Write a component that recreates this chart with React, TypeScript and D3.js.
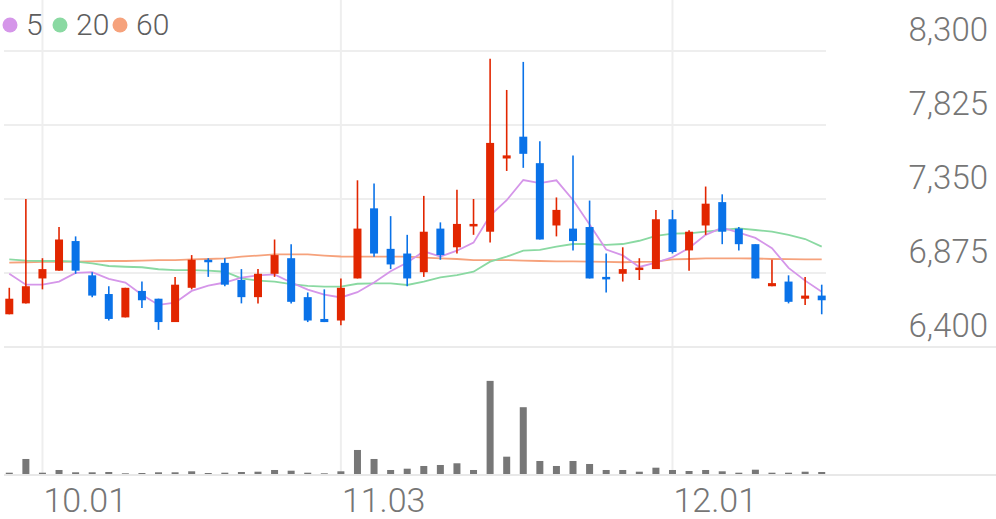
import React from "react";
import * as d3 from "d3";

const dates = [
  "09.29","09.30","10.01","10.02","10.10","10.13","10.14","10.15","10.16","10.17",
  "10.20","10.21","10.22","10.23","10.24","10.27","10.28","10.29","10.30","10.31",
  "11.03","11.04","11.05","11.06","11.07","11.10","11.11","11.12","11.13","11.14",
  "11.17","11.18","11.19","11.20","11.21","11.24","11.25","11.26","11.27","11.28",
  "12.01","12.02","12.03","12.04","12.05","12.08","12.09","12.10","12.11","12.12",
];

const opens = [
  6610,6680,6840,6890,7080,6860,6740,6590,6760,6710,
  6560,6780,6960,6940,6830,6720,6870,6970,6720,6580,
  6570,6840,7290,7030,7000,6880,7160,7040,7180,7140,
  7610,7750,7580,7180,7160,7170,6850,6870,6900,6900,
  7220,7020,7180,7330,7160,7060,6790,6820,6710,6730,
];
const highs = [
  6780,7350,6970,7170,7110,6880,6790,6780,6820,6710,
  6850,6990,6970,6970,6900,6900,7090,7060,6750,6770,
  6840,7470,7450,7240,7120,7370,7200,7410,7350,8250,
  8050,8230,7720,7360,7630,7340,7000,7040,6970,7280,
  7280,7150,7430,7380,7170,7060,6960,6860,6850,6800,
];
const lows = [
  6610,6680,6770,6890,6870,6720,6570,6590,6650,6510,
  6560,6770,6850,6790,6680,6680,6850,6680,6560,6560,
  6540,6840,6980,6900,6790,6850,6960,7000,7120,7070,
  7530,7550,7090,7110,7020,6840,6750,6820,6830,6900,
  7000,6890,7120,7060,7020,6840,6790,6680,6670,6610,
];
const closes = [
  6710,6790,6900,7090,6890,6730,6580,6780,6700,6560,
  6800,6960,6950,6800,6720,6870,6990,6690,6570,6560,
  6780,7160,7000,6930,6840,7140,6990,7190,7190,7710,
  7630,7640,7090,7280,7080,6840,6840,6900,6910,7220,
  7010,7140,7320,7140,7060,6840,6810,6690,6730,6700,
];
const volumes = [
  23000,160000,23000,50000,27000,27000,30000,17000,20000,27000,
  27000,37000,20000,23000,30000,33000,50000,43000,23000,17000,
  37000,250000,160000,50000,63000,90000,100000,117000,50000,940000,
  183000,677000,140000,90000,140000,110000,50000,50000,33000,73000,
  50000,40000,50000,37000,23000,53000,23000,23000,33000,30000,
];
const ma5 = [
  6870,6800,6800,6820,6876,6880,6838,6814,6736,6670,
  6684,6760,6794,6814,6846,6860,6866,6814,6768,6736,
  6718,6752,6814,6886,6942,7014,6980,7018,7070,7244,
  7342,7472,7452,7470,7344,7186,7026,6988,6914,6942,
  6976,7036,7120,7166,7134,7100,7034,6908,6826,6754,
];
const ma20 = [
  6963,6954,6952,6952,6948,6937,6920,6915,6912,6899,
  6894,6894,6890,6883,6841,6826,6819,6804,6792,6787,
  6787,6806,6809,6808,6798,6819,6847,6862,6883,6948,
  6980,7018,7023,7044,7061,7061,7055,7061,7082,7113,
  7128,7130,7140,7151,7162,7151,7140,7119,7093,7044,
];
const ma60 = [
  6941,6944,6946,6947,6948,6950,6952,6952,6954,6957,
  6958,6962,6965,6969,6980,6987,6995,6995,6994,6987,
  6981,6980,6980,6980,6980,6974,6969,6965,6958,6958,
  6958,6955,6952,6950,6949,6948,6946,6944,6946,6948,
  6963,6965,6969,6969,6969,6968,6965,6964,6963,6963,
];
const priceTicks = [6400, 6875, 7350, 7825, 8300];
const dateTicks = ["10.01", "11.03", "12.01"];
const legendLabels = ["5", "20", "60"];

const W = 996;
const H = 519;
const UP = "#e22600";
const DOWN = "#0a72e8";
const MA_COLORS = ["#d596e9", "#8ad9a2", "#f6a27c"];
const GRID = "#eeeeee";
const TEXT = "#767676";
const FONT = "Roboto, 'Noto Sans', sans-serif";

export default function App() {
  const idx = dates.map((_, i) => i);
  const x = d3.scaleBand<number>().domain(idx).range([1, 830]).padding(0);
  const cx = (i: number) => (x(i) as number) + x.bandwidth() / 2;
  const y = d3.scaleLinear().domain([6400, 8300]).range([347, 51]);
  const vmax = (d3.max(volumes) as number) * 1.36;
  const yv = d3.scaleLinear().domain([0, vmax]).range([475, 347]);

  const line = d3
    .line<number>()
    .x((_, i) => cx(i))
    .y((d) => y(d))
    .curve(d3.curveLinear);

  const bodyW = 8;
  const volW = 7;

  return (
    <svg
      width={W}
      height={H}
      style={{ position: "absolute", left: 0, top: 0, background: "#fff" }}
      fontFamily={FONT}
    >
      {/* vertical gridlines */}
      {dateTicks.map((t) => {
        const i = dates.indexOf(t);
        return (
          <line key={"vg" + t} x1={cx(i)} x2={cx(i)} y1={0} y2={475} stroke={GRID} strokeWidth={2} />
        );
      })}
      {/* horizontal gridlines */}
      {priceTicks.map((p) =>
        p === 6400 ? null : (
          <line key={"hg" + p} x1={4} x2={826} y1={y(p)} y2={y(p)} stroke={GRID} strokeWidth={2} />
        )
      )}
      <line x1={4} x2={W} y1={y(6400)} y2={y(6400)} stroke="#ebebeb" strokeWidth={2} />

      {/* volume bars */}
      {volumes.map((v, i) => (
        <rect
          key={"v" + i}
          x={cx(i) - volW / 2}
          y={yv(v)}
          width={volW}
          height={475 - yv(v)}
          fill="#777777"
        />
      ))}
      <line x1={4} x2={W} y1={475} y2={475} stroke="#e8e8e8" strokeWidth={2} />

      {/* moving averages */}
      {[ma60, ma20, ma5].map((s, k) => (
        <path
          key={"ma" + k}
          d={line(s) as string}
          fill="none"
          stroke={MA_COLORS[2 - k]}
          strokeWidth={1.8}
        />
      ))}

      {/* candles */}
      {idx.map((i) => {
        const o = opens[i];
        const c = closes[i];
        const up = c >= o;
        const col = up ? UP : DOWN;
        const top = y(Math.max(o, c));
        const bh = Math.max(Math.abs(y(o) - y(c)), 2.5);
        return (
          <g key={"c" + i}>
            <line x1={cx(i)} x2={cx(i)} y1={y(highs[i])} y2={y(lows[i])} stroke={col} strokeWidth={1.6} />
            <rect x={cx(i) - bodyW / 2} y={top} width={bodyW} height={bh} fill={col} />
          </g>
        );
      })}

      {/* y axis labels */}
      {priceTicks.map((p) => (
        <text
          key={"yl" + p}
          x={988}
          y={y(p) - 10}
          textAnchor="end"
          fontSize={33}
          fontWeight={300}
          fill={TEXT}
        >
          {d3.format(",")(p)}
        </text>
      ))}

      {/* x axis labels */}
      {dateTicks.map((t) => {
        const i = dates.indexOf(t);
        return (
          <text key={"xl" + t} x={cx(i) + 1} y={512} fontSize={34} fontWeight={300} fill={TEXT}>
            {t}
          </text>
        );
      })}

      {/* legend */}
      {legendLabels.map((l, k) => {
        const cxs = [10, 60, 120][k];
        return (
          <g key={"lg" + l}>
            <circle cx={cxs} cy={25} r={7.5} fill={MA_COLORS[k]} />
            <text x={cxs + 16} y={35} fontSize={30} fontWeight={300} fill="#5e5e5e">
              {l}
            </text>
          </g>
        );
      })}
    </svg>
  );
}
